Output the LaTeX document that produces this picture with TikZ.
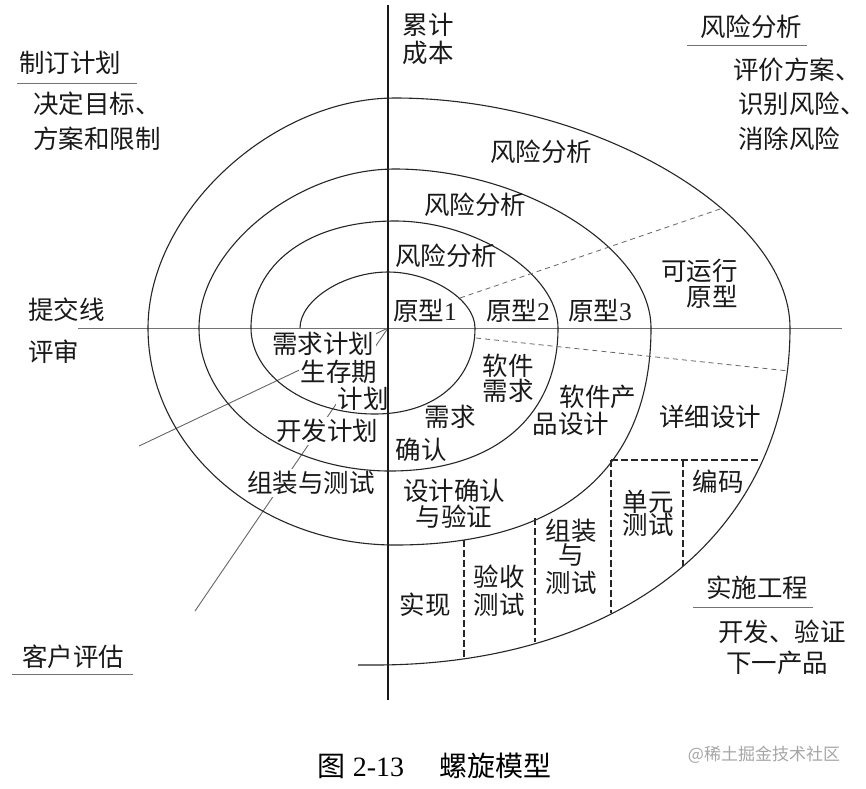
\documentclass[tikz,border=0pt]{standalone}
\usepackage{fontspec}
\setmainfont{Liberation Serif}
\newfontfamily\cjk{Noto Sans CJK SC}
\begin{document}
\begin{tikzpicture}[x=1pt,y=-1pt,
  lbl/.style={font=\fontsize{25.5}{27}\selectfont\cjk, inner sep=0pt, text=black!90},
  wb/.style={fill=white, inner sep=2pt},
  spiral/.style={line width=1.1pt, draw=black!85},
  haxis/.style={line width=0.9pt, draw=black!55},
  vaxis/.style={line width=1.6pt, draw=black!90},
  radial/.style={line width=0.9pt, draw=black!60},
  rdash/.style={line width=0.8pt, draw=black!60, dash pattern=on 5pt off 4pt},
  bdash/.style={line width=1.2pt, draw=black!85, dash pattern=on 7pt off 3pt},
  uline/.style={line width=1pt, draw=black!55}]
\useasboundingbox (0,0) rectangle (866,788);
\fill[white] (0,0) rectangle (866,788);

% radial lines (partly hidden by labels)
\coordinate (O) at (388,328);
\coordinate (r1end) at (139,446);
\coordinate (r2end) at (195,611);
\draw[radial] (O) -- (r1end);
\draw[radial] (O) -- (r2end);

% labels that hide the radial lines
\node[lbl,wb] (xq) at (323,344) {需求计划};
\node[lbl,wb] (scq) at (339,372) {生存期};
\node[lbl,wb] (jh) at (363,399) {计划};
\node[lbl,wb] (kf) at (327,431) {开发计划};
\node[lbl,wb] (zz) at (311,483) {组装与测试};

% axes
\draw[haxis] (78,328) -- (842,328);
\draw[vaxis] (388,5) -- (388,700);

% spiral
\draw[spiral] (300,328)
 .. controls (300,300) and (344,272) .. (388,272)
 .. controls (431.5,272) and (475,300) .. (475,328)
 .. controls (475,379.6) and (435,414) .. (375,414)
 .. controls (306.8,414) and (251,375.3) .. (251,328)
 .. controls (251,263.8) and (308.6,221) .. (395,221)
 .. controls (476.5,221) and (558,274.5) .. (558,328)
 .. controls (558,416.7) and (494.2,471) .. (390,471)
 .. controls (285,471) and (199,406.7) .. (199,328)
 .. controls (199,248.5) and (297,169) .. (395,169)
 .. controls (523,169) and (651,248.5) .. (651,328)
 .. controls (651,469) and (561.4,545) .. (395,545)
 .. controls (259,545) and (148,447.4) .. (148,328)
 .. controls (148,213) and (271.5,98) .. (395,98)
 .. controls (592.5,98) and (790,213) .. (790,328)
 .. controls (790,530) and (624,665) .. (375,665)
 -- (358,665);

% dashed radial lines
\draw[rdash] (460,298) -- (723,208);
\draw[rdash] (476,338) -- (789,371);

% dashed boxes
\draw[bdash] (611,460) -- (760,460);
\draw[bdash] (683,460) -- (683,566);
\draw[bdash] (611,460) -- (611,613);
\draw[bdash] (535,518) -- (535,642);
\draw[bdash] (464,540) -- (464,658);

% underlines
\draw[uline] (17,83) -- (137,83);
\draw[uline] (687,45) -- (807,45);
\draw[uline] (12,674) -- (133,674);
\draw[uline] (693,607) -- (813,607);

% labels
\node[lbl] (lj1) at (428,25) {累计};
\node[lbl] (lj2) at (428,53) {成本};
\node[lbl] (zd) at (70,63) {制订计划};
\node[lbl,anchor=west] (zd1) at (33,104) {决定目标、};
\node[lbl,anchor=west] (zd2) at (33,139) {方案和限制};
\node[lbl] (fx) at (751,27) {风险分析};
\node[lbl,anchor=west] (fx1) at (733,70) {评价方案、};
\node[lbl,anchor=west] (fx2) at (738,104) {识别风险、};
\node[lbl,anchor=west] (fx3) at (738,139) {消除风险};
\node[lbl] (ra) at (541,152) {风险分析};
\node[lbl] (rb) at (475,205) {风险分析};
\node[lbl] (rc) at (446,256) {风险分析};
\node[lbl] (p1) at (425,311) {原型{\rmfamily 1}};
\node[lbl] (p2) at (518,311) {原型{\rmfamily 2}};
\node[lbl] (p3) at (600,311) {原型{\rmfamily 3}};
\node[lbl,anchor=east] (ky1) at (738,271) {可运行};
\node[lbl,anchor=east] (ky2) at (738,297) {原型};
\node[lbl,anchor=west] (tj) at (28,310) {提交线};
\node[lbl,anchor=west] (ps) at (28,352) {评审};
\node[lbl] (rj1) at (508,366) {软件};
\node[lbl] (rj2) at (508,391) {需求};
\node[lbl] (cp1) at (598,397) {软件产};
\node[lbl] (cp2) at (571,424) {品设计};
\node[lbl] (qr1) at (450,417) {需求};
\node[lbl] (qr2) at (421,450) {确认};
\node[lbl] (xx) at (710,417) {详细设计};
\node[lbl] (sj1) at (454,491) {设计确认};
\node[lbl] (sj2) at (454,517) {与验证};
\node[lbl] (bm) at (718,482) {编码};
\node[lbl] (dy1) at (648,502) {单元};
\node[lbl] (dy2) at (648,525) {测试};
\node[lbl] (zc1) at (571,531) {组装};
\node[lbl] (zc2) at (571,555) {与};
\node[lbl] (zc3) at (571,583) {测试};
\node[lbl] (ys1) at (499,577) {验收};
\node[lbl] (ys2) at (499,605) {测试};
\node[lbl] (sx) at (425,605) {实现};
\node[lbl] (kh) at (73,657) {客户评估};
\node[lbl] (ss) at (757,588) {实施工程};
\node[lbl] (ss1) at (782,632) {开发、验证};
\node[lbl] (ss2) at (777,663) {下一产品};

% caption and watermark
\node[inner sep=0pt, font=\fontsize{28}{30}\selectfont] (cap1) at (361,766) {{\cjk 图} 2-13};
\node[inner sep=0pt, font=\fontsize{28}{30}\selectfont\cjk] (cap2) at (495,766) {螺旋模型};
\node[inner sep=0pt, font=\fontsize{17}{18}\selectfont\cjk, text=black!35] (wm) at (764,755) {@稀土掘金技术社区};
\end{tikzpicture}
\end{document}
